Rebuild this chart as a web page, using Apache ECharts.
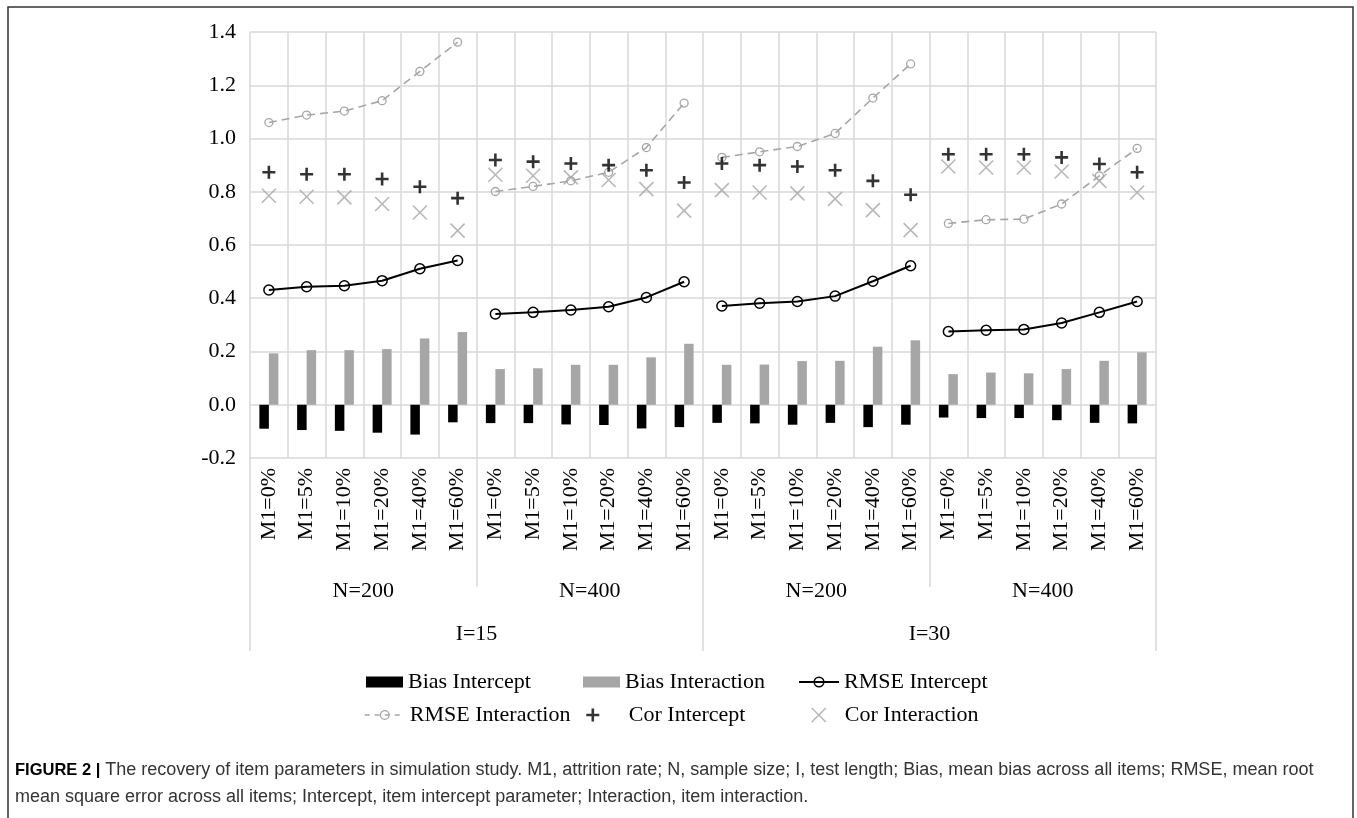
<!DOCTYPE html>
<html>
<head>
<meta charset="utf-8">
<script src="https://cdn.jsdelivr.net/npm/echarts@6/dist/echarts.min.js"></script>
<style>
html,body{margin:0;padding:0;background:#fff;}
#chart{width:1357px;height:818px;}
</style>
</head>
<body>
<div id="chart"></div>
<script>
// ---- Data ----
const categories = ['M1=0%','M1=5%','M1=10%','M1=20%','M1=40%','M1=60%',
                    'M1=0%','M1=5%','M1=10%','M1=20%','M1=40%','M1=60%',
                    'M1=0%','M1=5%','M1=10%','M1=20%','M1=40%','M1=60%',
                    'M1=0%','M1=5%','M1=10%','M1=20%','M1=40%','M1=60%'];
const sampleGroups = ['N=200','N=400','N=200','N=400'];
const lengthGroups = ['I=15','I=30'];
const yTicks = {min: -0.2, max: 1.4, interval: 0.2};

const biasIntercept = [-0.090,-0.095,-0.098,-0.105,-0.112,-0.066,
                       -0.069,-0.069,-0.074,-0.076,-0.089,-0.084,
                       -0.068,-0.070,-0.075,-0.068,-0.084,-0.075,
                       -0.048,-0.050,-0.050,-0.058,-0.068,-0.070];
const biasInteraction = [0.193,0.205,0.205,0.209,0.249,0.273,
                         0.134,0.137,0.150,0.150,0.178,0.229,
                         0.150,0.151,0.164,0.165,0.218,0.242,
                         0.115,0.121,0.118,0.134,0.165,0.197];
const rmseIntercept = [0.431,0.443,0.447,0.466,0.511,0.542,
                       0.341,0.347,0.356,0.368,0.403,0.462,
                       0.371,0.381,0.388,0.408,0.464,0.522,
                       0.275,0.280,0.283,0.307,0.347,0.388];
const rmseInteraction = [1.060,1.088,1.103,1.142,1.252,1.362,
                         0.801,0.820,0.841,0.873,0.966,1.133,
                         0.929,0.950,0.970,1.019,1.152,1.280,
                         0.681,0.695,0.697,0.754,0.860,0.963];
const corIntercept = [0.873,0.866,0.866,0.848,0.819,0.776,
                      0.919,0.913,0.906,0.900,0.881,0.835,
                      0.906,0.900,0.895,0.881,0.841,0.789,
                      0.941,0.941,0.941,0.929,0.904,0.873];
const corInteraction = [0.785,0.781,0.779,0.754,0.722,0.654,
                        0.864,0.860,0.854,0.844,0.810,0.729,
                        0.806,0.797,0.794,0.773,0.731,0.656,
                        0.895,0.891,0.891,0.876,0.841,0.797];

// ---- Styles ----
const SERIF = '"Liberation Serif", "Times New Roman", serif';
const SANS = '"Liberation Sans", Arial, sans-serif';
const GRID = '#d9d9d9';
const GRAY = '#a6a6a6';
const PLUS = 'path://M0,6L12,6M6,0L6,12';
const CROSS = 'path://M0,0L10,10M10,0L0,10';

const groupSize = 6;
function segment(arr, g) {
  return arr.map((v, i) => (Math.floor(i / groupSize) === g ? v : null));
}

const series = [
  {name:'Bias Intercept', type:'bar', data: biasIntercept, barWidth: 9.5, barGap:'0%',
   itemStyle:{color:'#000'}, z:2},
  {name:'Bias Interaction', type:'bar', data: biasInteraction, barWidth: 9.5, barGap:'0%',
   itemStyle:{color:GRAY}, z:2}
];
for (let g = 0; g < sampleGroups.length; g++) {
  series.push({name:'RMSE Intercept', type:'line', data: segment(rmseIntercept, g),
    symbol:'circle', symbolSize:10, showAllSymbol:true, connectNulls:false,
    lineStyle:{color:'#000', width:2},
    itemStyle:{color:'rgba(0,0,0,0)', borderColor:'#000', borderWidth:1.5}, z:3});
  series.push({name:'RMSE Interaction', type:'line', data: segment(rmseInteraction, g),
    symbol:'circle', symbolSize:8, showAllSymbol:true, connectNulls:false,
    lineStyle:{color:GRAY, width:1.6, type:[8,5]},
    itemStyle:{color:'rgba(0,0,0,0)', borderColor:GRAY, borderWidth:1.3}, z:3});
}
series.push({name:'Cor Intercept', type:'scatter', data: corIntercept,
  symbol: PLUS, symbolSize: 13,
  itemStyle:{color:'rgba(0,0,0,0)', borderColor:'#000', borderWidth:2.6}, z:4});
series.push({name:'Cor Interaction', type:'scatter', data: corInteraction,
  symbol: CROSS, symbolSize: 14,
  itemStyle:{color:'rgba(0,0,0,0)', borderColor:GRAY, borderWidth:1.6}, z:4});

const legendText = {fontFamily: SERIF, fontSize: 22, color:'#000'};
function legend(item, left, top, w, h, extra) {
  return Object.assign({
    data:[item], left:left, top:top, itemWidth:w, itemHeight:h, padding:0,
    selectedMode:false, textStyle: legendText, orient:'horizontal'
  }, extra || {});
}

const option = {
  animation:false,
  backgroundColor:'#fff',
  title: {
    left: 15, top: 757, padding: 0,
    text: '{b|FIGURE 2 |} The recovery of item parameters in simulation study. M1, attrition rate; N, sample size; I, test length; Bias, mean bias across all items; RMSE, mean root\nmean square error across all items; Intercept, item intercept parameter; Interaction, item interaction.',
    textStyle: {
      fontFamily:SANS, fontSize:18, fontWeight:'normal',
      color:'#333', lineHeight:27,
      rich:{ b:{fontFamily:SANS, fontSize:16.5, fontWeight:'bold', color:'#000', lineHeight:27} }
    }
  },
  graphic: [{
    type:'rect', silent:true, z:-10,
    shape:{x:8, y:7, width:1345, height:900},
    style:{fill:'none', stroke:'#333', lineWidth:1.5}
  }],
  legend: [
    legend({name:'Bias Intercept', icon:'rect'}, 366, 671, 37, 11, {itemStyle:{color:'#000', borderWidth:0}}),
    legend({name:'Bias Interaction', icon:'rect'}, 583, 671, 37, 11, {itemStyle:{color:GRAY, borderWidth:0}}),
    legend('RMSE Intercept', 798, 671, 40, 12, {
      itemStyle:{color:'rgba(0,0,0,0)', borderColor:'#000', borderWidth:1.5},
      lineStyle:{color:'#000', width:2}}),
    legend('RMSE Interaction', 364, 704, 40, 11, {
      itemStyle:{color:'rgba(0,0,0,0)', borderColor:GRAY, borderWidth:1.2},
      lineStyle:{color:GRAY, width:1.5, type:[5,5]}}),
    legend('Cor Intercept', 585, 704, 62, 13, {
      itemStyle:{color:'rgba(0,0,0,0)', borderColor:'#000', borderWidth:2.6}}),
    legend('Cor Interaction', 811, 704, 42, 14, {
      itemStyle:{color:'rgba(0,0,0,0)', borderColor:GRAY, borderWidth:1.6}})
  ],
  grid: {left:250, right:201, top:32, bottom:360, containLabel:false},
  xAxis: [
    {type:'category', data: categories, position:'bottom', boundaryGap:true,
     axisLine:{show:false}, axisTick:{show:false},
     splitLine:{show:true, interval:0, lineStyle:{color:GRID, width:1.5}},
     axisLabel:{interval:0, rotate:90, margin:10, fontFamily:SERIF, fontSize:22, color:'#000'}},
    {type:'category', data: sampleGroups, position:'bottom', boundaryGap:true, offset:0,
     axisLine:{show:false},
     axisTick:{show:true, interval:0, length:129, inside:false, lineStyle:{color:GRID, width:1.5}},
     splitLine:{show:false},
     axisLabel:{interval:0, margin:122, fontFamily:SERIF, fontSize:22, color:'#000'}},
    {type:'category', data: lengthGroups, position:'bottom', boundaryGap:true, offset:0,
     axisLine:{show:false},
     axisTick:{show:true, interval:0, length:193, inside:false, lineStyle:{color:GRID, width:1.5}},
     splitLine:{show:false},
     axisLabel:{interval:0, margin:165, fontFamily:SERIF, fontSize:22, color:'#000'}}
  ],
  yAxis: {
    type:'value', min: yTicks.min, max: yTicks.max, interval: yTicks.interval,
    axisLine:{show:false}, axisTick:{show:false},
    splitLine:{show:true, lineStyle:{color:GRID, width:1.5}},
    axisLabel:{margin:14, fontFamily:SERIF, fontSize:22, color:'#000',
      formatter: v => (Math.abs(v) < 1e-9 ? '0.0' : v.toFixed(1))}
  },
  series: series
};

const chart = echarts.init(document.getElementById('chart'), null, {renderer:'canvas'});
chart.setOption(option);
</script>
</body>
</html>
